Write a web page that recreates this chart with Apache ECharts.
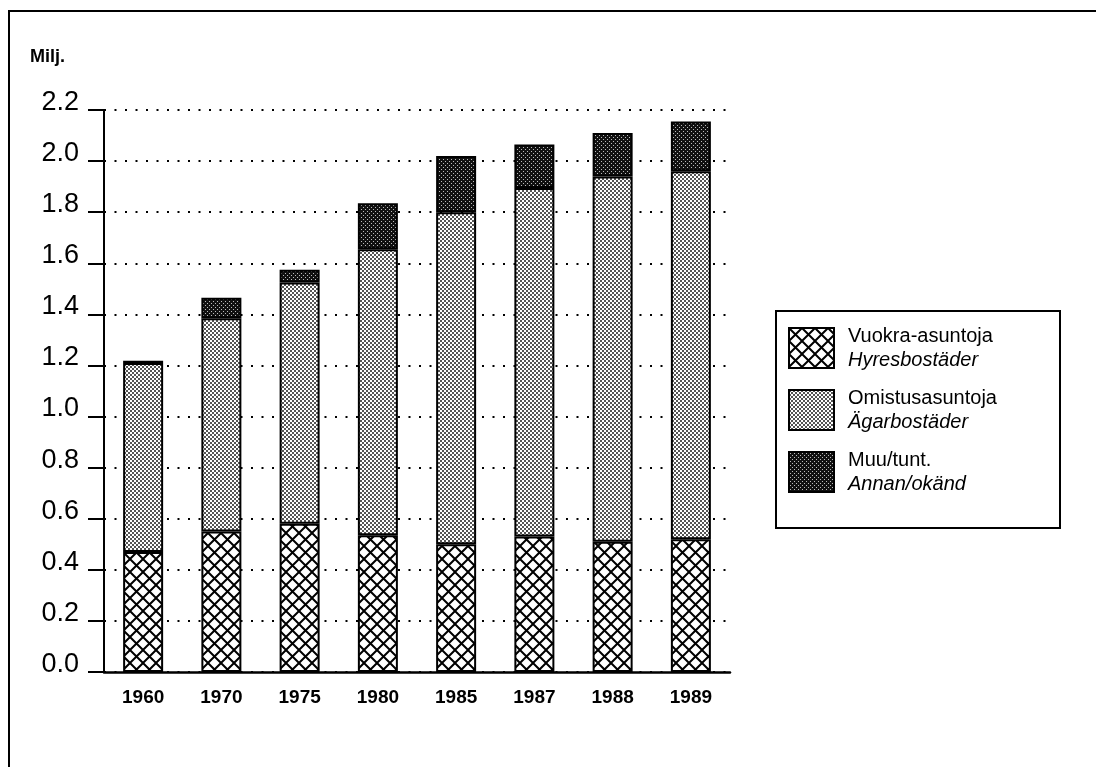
<!DOCTYPE html>
<html>
<head>
<meta charset="utf-8">
<title>Asunnot hallintasuhteen mukaan</title>
<script src="https://cdn.jsdelivr.net/npm/echarts/dist/echarts.min.js"></script>
<style>
  html, body { margin: 0; padding: 0; background: #fff; }
  #bars { width: 1096px; height: 767px; }
</style>
</head>
<body>
<div id="bars"></div>
<script>
// milj. asuntoja
var years = ['1960', '1970', '1975', '1980', '1985', '1987', '1988', '1989'];
var rented = [0.47, 0.55, 0.58, 0.535, 0.50, 0.53, 0.51, 0.52];
var owned = [0.74, 0.835, 0.945, 1.12, 1.30, 1.365, 1.43, 1.44];
var other = [0.008, 0.08, 0.05, 0.18, 0.22, 0.17, 0.17, 0.195];
var yTicks = [0, 0.2, 0.4, 0.6, 0.8, 1.0, 1.2, 1.4, 1.6, 1.8, 2.0, 2.2];
var namesFi = ['Vuokra-asuntoja', 'Omistusasuntoja', 'Muu/tunt.'];
var namesSv = ['Hyresbostäder', 'Ägarbostäder', 'Annan/okänd'];

var font = '"Liberation Sans", Arial, Helvetica, sans-serif';

// ruutukuviot
function hatch() {
    var s = 13, c = document.createElement('canvas');
    c.width = s; c.height = s;
    var g = c.getContext('2d');
    g.fillStyle = '#fff';
    g.fillRect(0, 0, s, s);
    g.strokeStyle = '#000';
    g.lineWidth = 2;
    for (var k = -1; k <= 1; k++) {
        g.beginPath();
        g.moveTo(k * s, 0); g.lineTo(k * s + s, s);
        g.moveTo(k * s + s, 0); g.lineTo(k * s, s);
        g.stroke();
    }
    return c;
}
function dots(bg, fg, pts) {
    var c = document.createElement('canvas');
    c.width = 4; c.height = 4;
    var g = c.getContext('2d');
    g.fillStyle = bg;
    g.fillRect(0, 0, 4, 4);
    g.fillStyle = fg;
    pts.forEach(function (p) { g.fillRect(p[0], p[1], p[2], p[3]); });
    return c;
}
var patRented = { image: hatch(), repeat: 'repeat' };
var patOwned = { image: dots('#fff', '#555', [[0, 0, 2, 2], [2, 2, 2, 2]]), repeat: 'repeat' };
var patOther = { image: dots('#111', '#bbb', [[1, 1, 1, 1], [3, 3, 1, 1]]), repeat: 'repeat' };

function bar(name, data, pat) {
    return {
        name: name,
        type: 'bar',
        stack: 'all',
        barWidth: 40,
        data: data,
        itemStyle: { color: pat, borderColor: '#000', borderWidth: 2 }
    };
}

var myChart = echarts.init(document.getElementById('bars'));
var option = {
    animation: false,
    backgroundColor: '#fff',
    textStyle: { fontFamily: font, color: '#000' },
    title: {
        text: 'Milj.',
        left: 25,
        top: 43,
        textStyle: { fontFamily: font, fontSize: 18, fontWeight: 'bold', color: '#000' }
    },
    grid: { left: 104, top: 110, width: 626, height: 562 },
    legend: {
        orient: 'vertical',
        left: 788,
        top: 326,
        padding: 0,
        itemWidth: 45,
        itemHeight: 40,
        itemGap: 18,
        icon: 'rect',
        selectedMode: false,
        data: namesFi,
        formatter: function (n) {
            return '{a|' + n + '}\n{b|' + namesSv[namesFi.indexOf(n)] + '}';
        },
        textStyle: {
            color: '#000',
            rich: {
                a: { fontFamily: font, fontSize: 20, lineHeight: 24, padding: [0, 0, 0, 9], color: '#000' },
                b: { fontFamily: font, fontSize: 20, lineHeight: 24, fontStyle: 'italic', padding: [0, 0, 0, 9], color: '#000' }
            }
        }
    },
    xAxis: {
        type: 'category',
        data: years,
        axisLine: { lineStyle: { color: '#000', width: 2.5 } },
        axisTick: { show: false },
        axisLabel: { margin: 16, fontFamily: font, fontSize: 19, fontWeight: 'bold', color: '#000' }
    },
    yAxis: {
        type: 'value',
        min: yTicks[0],
        max: yTicks[yTicks.length - 1],
        interval: 0.2,
        axisLine: { show: true, lineStyle: { color: '#000', width: 2 } },
        axisTick: { show: true, length: 16, lineStyle: { color: '#000', width: 2 } },
        axisLabel: {
            margin: 25,
            fontFamily: font,
            fontSize: 27,
            color: '#000',
            verticalAlign: 'bottom',
            lineHeight: 15,
            formatter: function (v) { return v.toFixed(1); }
        },
        splitLine: { lineStyle: { color: '#000', width: 2, type: [2, 8.5] } }
    },
    graphic: [
        {
            type: 'polyline',
            shape: { points: [[9, 767], [9, 11], [1096, 11]] },
            style: { stroke: '#000', lineWidth: 2, fill: null }
        },
        {
            type: 'rect',
            shape: { x: 776, y: 311, width: 284, height: 217 },
            style: { stroke: '#000', lineWidth: 2, fill: null },
            z: 100
        }
    ],
    series: [
        bar(namesFi[0], rented, patRented),
        bar(namesFi[1], owned, patOwned),
        bar(namesFi[2], other, patOther)
    ]
};
myChart.setOption(option);
</script>
</body>
</html>
